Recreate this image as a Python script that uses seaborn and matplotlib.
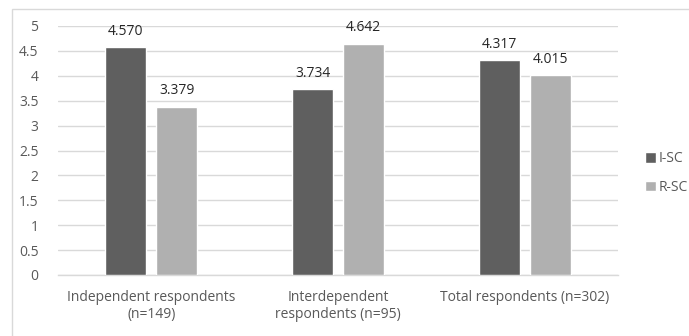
import pandas as pd
import matplotlib.pyplot as plt
import seaborn as sns
from matplotlib.patches import Rectangle

# data
groups = ["Independent respondents\n(n=149)", "Interdependent\nrespondents (n=95)", "Total respondents (n=302)"]
series = ["I-SC", "R-SC"]
i_sc = [4.570, 3.734, 4.317]
r_sc = [3.379, 4.642, 4.015]
yticks = [0, 0.5, 1, 1.5, 2, 2.5, 3, 3.5, 4, 4.5, 5]
ytick_labels = ["0", "0.5", "1", "1.5", "2", "2.5", "3", "3.5", "4", "4.5", "5"]

df = pd.DataFrame({
    "Group": groups * 2,
    "Series": [series[0]] * 3 + [series[1]] * 3,
    "Value": i_sc + r_sc,
})

sns.set_theme(style="white")
plt.rcParams["font.family"] = ["Open Sans", "DejaVu Sans"]

fig = plt.figure(figsize=(6.89, 3.36), dpi=100)
ax = fig.add_axes([58 / 689, 1 - 275 / 336, (618 - 58) / 689, (275 - 26) / 336])

sns.barplot(
    data=df, x="Group", y="Value", hue="Series",
    palette=["#5f5f5f", "#b0b0b0"], width=0.546, gap=0.196,
    saturation=1, ax=ax, zorder=3,
)

for cont in ax.containers:
    ax.bar_label(cont, labels=[f"{v:.3f}" for v in cont.datavalues],
                 padding=6, fontsize=10, color="#262626")

ax.set_ylim(0, 5)
ax.set_yticks(yticks)
ax.set_yticklabels(ytick_labels)
ax.yaxis.grid(True, color="#d9d9d9", linewidth=1, zorder=0)
ax.set_axisbelow(True)
for s in ["top", "right", "left"]:
    ax.spines[s].set_visible(False)
ax.spines["bottom"].set_color("#d9d9d9")
ax.spines["bottom"].set_linewidth(1)
ax.tick_params(axis="both", length=0, labelsize=10, labelcolor="#595959")
ax.tick_params(axis="y", pad=14)
ax.tick_params(axis="x", pad=11)
ax.set_xlabel("")
ax.set_ylabel("")

leg = ax.legend(loc="center left", bbox_to_anchor=(632 / 689, 1 - 173 / 336), bbox_transform=fig.transFigure,
                frameon=False, fontsize=10, handlelength=0.8, handleheight=0.8,
                handletextpad=0.2, labelspacing=1.0)
for t in leg.get_texts():
    t.set_color("#595959")

fig.patches.append(Rectangle((12 / 689, -0.1), 1.1, 1 - 9 / 336 + 0.1,
                             transform=fig.transFigure, fill=False,
                             edgecolor="#d9d9d9", linewidth=1))

fig.savefig("out.png", dpi=100, facecolor="white")
